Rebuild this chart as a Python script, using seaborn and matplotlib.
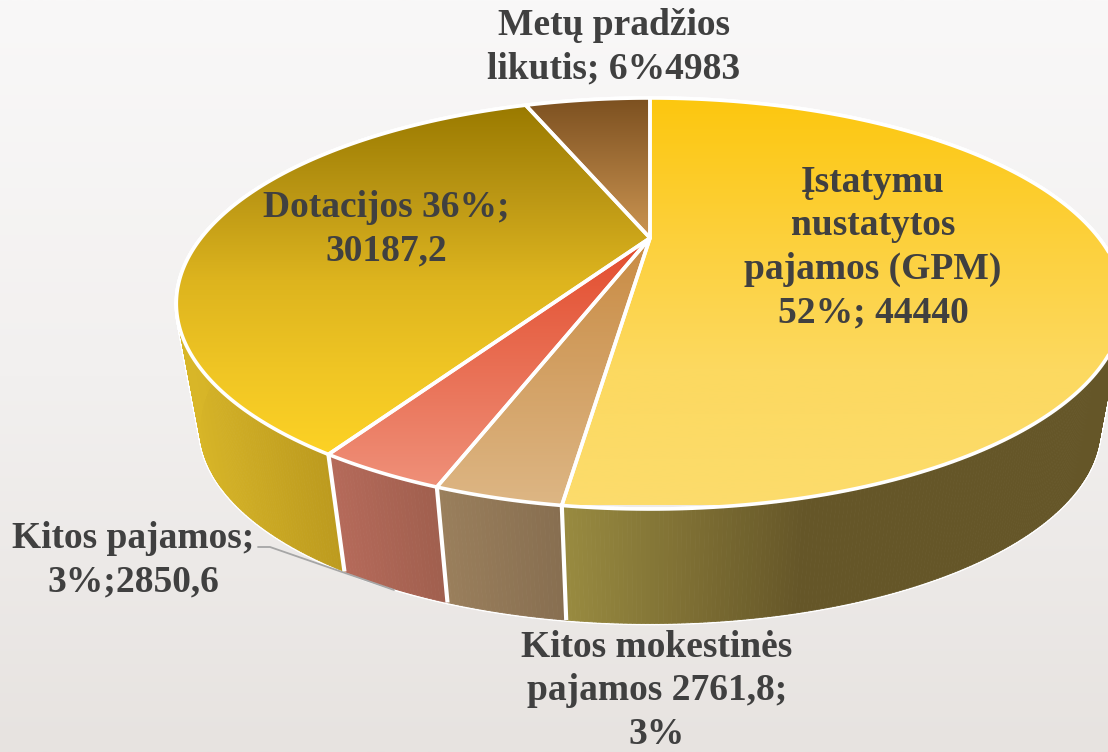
import numpy as np
import matplotlib
matplotlib.use("Agg")
import matplotlib.pyplot as plt
from matplotlib.collections import PolyCollection
from matplotlib.patches import Polygon
import seaborn as sns

# clockwise from 12 o'clock
names = ["GPM", "Kitos mokestines", "Kitos pajamos", "Dotacijos", "Metu pradzios"]
values = [44440, 2761.8, 2850.6, 30187.2, 4983]

top_colors = [
    ["#FCC70F", "#FDD03A", "#FCD960", "#FCDC6C"],
    ["#C98C45", "#DDB684"],
    ["#E34E2F", "#EF9079"],
    ["#9A7A00", "#BA9614", "#DDB41E", "#EFC524", "#FDD225"],
    ["#7C5020", "#CC9552"],
]
side_colors = [
    ["#988A40", "#655628"],
    ["#9A7F5C", "#876E50"],
    ["#B56A5A", "#A05F4E"],
    ["#D8B628", "#BC9A1E"],
    ["#7C5020", "#7C5020"],
]
# y range of the vertical gradient on the top face / x range on the side
top_span = [(98, 505), (245, 505), (245, 487), (105, 455), (98, 238)]
side_span = [(567, 800), (447, 567), (345, 447), (200, 345), (400, 650)]

# text lines, centre x, baseline of the first line
label_lines = [
    (["Įstatymu", "nustatytos", "pajamos (GPM)", "52%; 44440"], 873, 192),
    (["Kitos mokestinės", "pajamos 2761,8;", "3%"], 657, 657),
    (["Kitos pajamos;", "3%;2850,6"], 133, 548),
    (["Dotacijos 36%;", "30187,2"], 386, 217),
    (["Metų pradžios", "likutis; 6%4983"], 614, 35),
]

W, H = 1108, 752
sns.set_theme(style="white")
plt.rcParams["font.family"] = ["Liberation Serif", "DejaVu Serif"]


# circle seen in perspective, angle clockwise from top
def rim(deg):
    t = np.radians(deg)
    u, v = np.sin(t), np.cos(t)
    d = 0.3187 * v + 1
    return np.column_stack([650 + 449 * u / d, (238 - 108.8 * v) / d])


def low_rim(deg):
    p = rim(deg)
    return np.column_stack([650 + (p[:, 0] - 650) * 0.95, 238 + (p[:, 1] - 238) * 0.95 + 128])


fig = plt.figure(figsize=(W / 100, H / 100), dpi=100)
ax = fig.add_axes([0, 0, 1, 1])
ax.set_xlim(0, W)
ax.set_ylim(H, 0)
ax.axis("off")

bg = sns.blend_palette(["#F9F8F8", "#F2F0EF", "#E7E3E0"], as_cmap=True)
ax.imshow(np.linspace(0, 1, 256)[:, None], cmap=bg, extent=(0, W, H, 0), aspect="auto", zorder=0)

edges = np.cumsum([0] + values) / sum(values) * 360

# sides first, the top face hides what is at the back
quads, quad_cols = [], []
for i in range(len(values)):
    cmap = sns.blend_palette(side_colors[i], as_cmap=True)
    a = np.arange(edges[i], edges[i + 1], 0.4)
    a = np.append(a, edges[i + 1])
    up, lo = rim(a), low_rim(a)
    for j in range(len(a) - 1):
        quads.append([up[j], up[j + 1], lo[j + 1], lo[j]])
        xm = (lo[j, 0] + lo[j + 1, 0]) / 2
        s = (xm - side_span[i][0]) / (side_span[i][1] - side_span[i][0])
        quad_cols.append(cmap(np.clip(s, 0, 1)))

ax.add_collection(PolyCollection(quads, facecolors="white", edgecolors="white", linewidths=2.6, zorder=1))
ax.add_collection(PolyCollection(quads, facecolors=quad_cols, edgecolors=quad_cols, linewidths=0.6, zorder=2))

for i in range(len(values)):
    a = np.array([edges[i]])
    p, q = rim(a)[0], low_rim(a)[0]
    if 150 < edges[i] < 300:
        ax.plot([p[0], q[0]], [p[1], q[1]], color="white", lw=3, zorder=3, solid_capstyle="butt")

# top face, one vertical gradient per slice
for i in range(len(values)):
    a = np.linspace(edges[i], edges[i + 1], 200)
    pts = np.vstack([[650, 238], rim(a)])
    cmap = sns.blend_palette(top_colors[i], as_cmap=True)
    y0, y1 = top_span[i]
    im = ax.imshow(np.linspace(0, 1, 256)[:, None], cmap=cmap, extent=(0, W, y1, y0), aspect="auto", zorder=4)
    face = Polygon(pts, closed=True, facecolor="none", edgecolor="none", transform=ax.transData)
    ax.add_patch(face)
    im.set_clip_path(face)
    ax.add_patch(Polygon(pts, closed=True, facecolor="none", edgecolor="white", lw=2.6, joinstyle="round", zorder=5))

ax.set_xlim(0, W)
ax.set_ylim(H, 0)

# leader of the "Kitos pajamos" label
ax.plot([258, 270, 394], [547, 547, 590], color="#A6A6A6", lw=1.3, zorder=6)

for lines, x, y in label_lines:
    for n, line in enumerate(lines):
        ax.text(x, y + n * 43.4, line, ha="center", va="baseline", fontsize=27, fontweight="bold",
                color="#404040", zorder=7)

fig.savefig("out.png", dpi=100)
